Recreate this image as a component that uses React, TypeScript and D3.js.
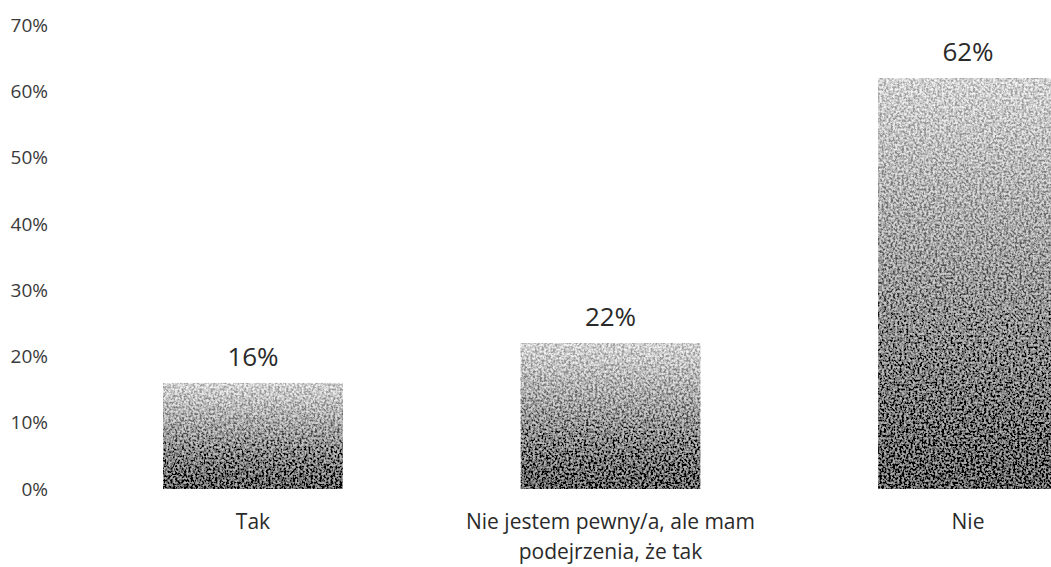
import * as d3 from "d3";

// chart data
const categories = ["Tak", "Nie jestem pewny/a, ale mam|podejrzenia, że tak", "Nie"];
const values = [16, 22, 62];
const yTicks = [0, 10, 20, 30, 40, 50, 60, 70];

export default function App() {
  const width = 1051;
  const height = 567;
  const font = "'Open Sans', 'Liberation Sans', sans-serif";

  const x = d3
    .scaleBand<number>()
    .domain(values.map((_, i) => i))
    .range([74.25, 1146.75])
    .paddingInner(0.497)
    .paddingOuter(0.2485);

  const y = d3.scaleLinear().domain([0, 70]).range([489, 25]);

  return (
    <svg
      width={width}
      height={height}
      style={{ position: "absolute", left: 0, top: 0, background: "#fff" }}
    >
      <defs>
        <linearGradient id="shade" x1="0" y1="0" x2="0" y2="1">
          <stop offset="0%" stopColor="#d2d2d2" />
          <stop offset="100%" stopColor="#5e5e5e" />
        </linearGradient>
        <filter id="stipple" x="0" y="0" width="100%" height="100%">
          <feTurbulence type="fractalNoise" baseFrequency="0.45" numOctaves="2" seed="3" result="noise" />
          <feColorMatrix
            in="noise"
            type="matrix"
            values="1 0 0 0 0  1 0 0 0 0  1 0 0 0 0  0 0 0 0 1"
            result="gray"
          />
          <feComponentTransfer in="gray" result="contrast">
            <feFuncR type="linear" slope="2.6" intercept="-0.8" />
            <feFuncG type="linear" slope="2.6" intercept="-0.8" />
            <feFuncB type="linear" slope="2.6" intercept="-0.8" />
          </feComponentTransfer>
          <feComposite in="SourceGraphic" in2="contrast" operator="arithmetic" k1="0" k2="1" k3="0.55" k4="-0.27" result="mixed" />
          <feComposite in="mixed" in2="SourceGraphic" operator="in" />
        </filter>
      </defs>

      {/* y tick labels */}
      {yTicks.map((t) => (
        <text
          key={t}
          x={48}
          y={y(t)}
          dy="0.35em"
          textAnchor="end"
          fontFamily={font}
          fontSize={19}
          fill="#3a3a3a"
        >
          {t}%
        </text>
      ))}

      {/* bars */}
      {values.map((v, i) => (
        <rect
          key={i}
          x={x(i)}
          y={y(v)}
          width={x.bandwidth()}
          height={y(0) - y(v)}
          fill="url(#shade)"
          filter="url(#stipple)"
        />
      ))}

      {/* value labels */}
      {values.map((v, i) => (
        <text
          key={i}
          x={(x(i) ?? 0) + x.bandwidth() / 2}
          y={y(v) - 17}
          textAnchor="middle"
          fontFamily={font}
          fontSize={26}
          fill="#2a2a2a"
        >
          {v}%
        </text>
      ))}

      {/* category labels */}
      {categories.map((c, i) => (
        <text
          key={i}
          x={(x(i) ?? 0) + x.bandwidth() / 2}
          y={529}
          textAnchor="middle"
          fontFamily={font}
          fontSize={21}
          fill="#2a2a2a"
        >
          {c.split("|").map((line, j) => (
            <tspan key={j} x={(x(i) ?? 0) + x.bandwidth() / 2} dy={j === 0 ? 0 : 30}>
              {line}
            </tspan>
          ))}
        </text>
      ))}
    </svg>
  );
}
